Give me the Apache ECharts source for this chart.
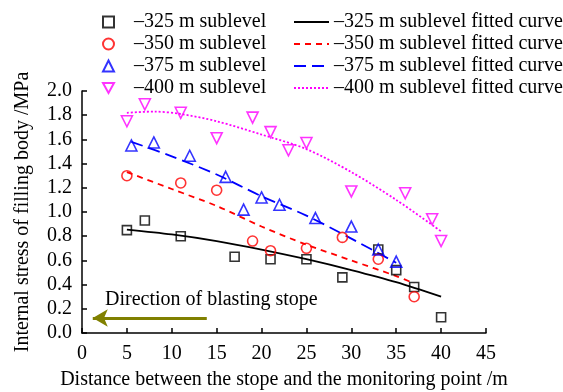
<!DOCTYPE html>
<html>
<head>
<meta charset="utf-8">
<script src="https://cdn.jsdelivr.net/npm/echarts@6/dist/echarts.min.js"></script>
<style>
  html, body { margin: 0; padding: 0; background: #fff; }
  #chart { width: 563px; height: 392px; }
</style>
</head>
<body>
<div id="chart"></div>
<script>
// measured points
const x325 = [5, 7, 11, 17, 21, 25, 29, 33, 35, 37, 40];
const y325 = [0.85, 0.93, 0.80, 0.63, 0.61, 0.61, 0.46, 0.69, 0.52, 0.38, 0.13];
const x350 = [5, 11, 15, 19, 21, 25, 29, 33, 37];
const y350 = [1.30, 1.24, 1.18, 0.76, 0.68, 0.70, 0.79, 0.61, 0.30];
const x375 = [5.5, 8, 12, 16, 18, 20, 22, 26, 30, 33, 35];
const y375 = [1.55, 1.575, 1.465, 1.29, 1.02, 1.12, 1.06, 0.95, 0.88, 0.69, 0.59];
const x400 = [5, 7, 11, 15, 19, 21, 23, 25, 30, 36, 39, 40];
const y400 = [1.75, 1.89, 1.82, 1.61, 1.78, 1.66, 1.51, 1.57, 1.17, 1.155, 0.94, 0.76];

// fitted curves
const fx325 = [5, 10, 15, 20, 25, 30, 35, 40];
const fy325 = [0.855, 0.815, 0.76, 0.69, 0.61, 0.52, 0.42, 0.30];
const fx350 = [5, 10, 15, 20, 25, 30, 35, 37];
const fy350 = [1.33, 1.19, 1.05, 0.88, 0.73, 0.60, 0.47, 0.41];
const fx375 = [5.5, 10, 15, 20, 25, 30, 35];
const fy375 = [1.58, 1.46, 1.31, 1.13, 0.97, 0.78, 0.58];
const fx400 = [5, 8, 11, 15, 20, 25, 30, 35, 40];
const fy400 = [1.82, 1.83, 1.81, 1.75, 1.64, 1.52, 1.33, 1.10, 0.84];

// arrow for the blasting direction
const arrowFrom = [13.9, 0.124];
const arrowTo = [1.2, 0.124];

const FONT = '"Liberation Serif", "Times New Roman", serif';
const zip = (xs, ys) => xs.map((x, i) => [x, ys[i]]);

const scatter = (name, xs, ys, color, symbol, size, rotate) => ({
  name,
  type: 'scatter',
  data: zip(xs, ys),
  symbol,
  symbolSize: size,
  symbolRotate: rotate || 0,
  itemStyle: { color: 'rgba(255,255,255,0)', borderColor: color, borderWidth: 1.6 },
  z: 3
});

const fitted = (name, xs, ys, color, type) => ({
  name,
  type: 'line',
  data: zip(xs, ys),
  showSymbol: false,
  symbol: 'none',
  smooth: 0.3,
  itemStyle: { color },
  lineStyle: { color, width: 1.8, type },
  z: 2
});

const chart = echarts.init(document.getElementById('chart'));

chart.setOption({
  animation: false,
  textStyle: { fontFamily: FONT },
  grid: { left: 82, right: 77, top: 91, bottom: 59, outerBoundsMode: 'none' },
  legend: [
    {
      orient: 'vertical',
      left: 97,
      top: 6,
      itemWidth: 11,
      itemHeight: 11,
      itemGap: 0,
      textStyle: { fontFamily: FONT, fontSize: 20, color: '#000', lineHeight: 22, padding: [0, 0, 0, 15] },
      data: ['–325 m sublevel', '–350 m sublevel', '–375 m sublevel',
             { name: '–400 m sublevel', icon: 'path://M0,0 L10,0 L5,9 Z' }]
    },
    {
      orient: 'vertical',
      left: 288,
      top: 6,
      itemWidth: 35,
      itemHeight: 12,
      itemGap: 0,
      itemStyle: { opacity: 0 },
      textStyle: { fontFamily: FONT, fontSize: 20, color: '#000', lineHeight: 22 },
      data: ['–325 m sublevel fitted curve', '–350 m sublevel fitted curve',
             '–375 m sublevel fitted curve', '–400 m sublevel fitted curve']
    }
  ],
  xAxis: {
    type: 'value',
    min: 0,
    max: 45,
    interval: 5,
    name: 'Distance between the stope and the monitoring point /m',
    nameLocation: 'middle',
    nameGap: 37,
    nameTextStyle: { fontFamily: FONT, fontSize: 20, color: '#000' },
    axisLine: { lineStyle: { color: '#000', width: 1.5 } },
    axisTick: { inside: true, length: 5, lineStyle: { color: '#000', width: 1.5 } },
    axisLabel: { fontFamily: FONT, fontSize: 20, color: '#000', margin: 11 },
    splitLine: { show: false }
  },
  yAxis: {
    type: 'value',
    min: 0,
    max: 2,
    interval: 0.2,
    name: 'Internal stress of filling body /MPa',
    nameLocation: 'middle',
    nameGap: 49,
    nameTextStyle: { fontFamily: FONT, fontSize: 20, color: '#000' },
    axisLine: { show: true, lineStyle: { color: '#000', width: 1.5 } },
    axisTick: { show: true, inside: true, length: 5, lineStyle: { color: '#000', width: 1.5 } },
    axisLabel: { fontFamily: FONT, fontSize: 20, color: '#000', margin: 10, formatter: v => v.toFixed(1) },
    splitLine: { show: false }
  },
  graphic: [
    {
      type: 'text',
      left: 105,
      top: 290,
      style: { text: 'Direction of blasting stope', font: '20px ' + FONT, fill: '#000' }
    }
  ],
  series: [
    fitted('–325 m sublevel fitted curve', fx325, fy325, '#000000', 'solid'),
    fitted('–350 m sublevel fitted curve', fx350, fy350, '#ff0000', [6, 5]),
    fitted('–375 m sublevel fitted curve', fx375, fy375, '#0000ff', [12, 6]),
    fitted('–400 m sublevel fitted curve', fx400, fy400, '#ff00ff', [2, 2]),
    scatter('–325 m sublevel', x325, y325, '#000000', 'rect', 9),
    scatter('–350 m sublevel', x350, y350, '#ff0000', 'circle', 10),
    scatter('–375 m sublevel', x375, y375, '#0000ff', 'triangle', 11),
    scatter('–400 m sublevel', x400, y400, '#ff00ff', 'triangle', 11, 180),
    {
      name: 'arrow',
      type: 'line',
      data: [],
      silent: true,
      markLine: {
        silent: true,
        symbol: ['none', 'arrow'],
        symbolSize: [13, 15],
        label: { show: false },
        lineStyle: { color: '#808000', width: 3, type: 'solid' },
        data: [[{ coord: arrowFrom }, { coord: arrowTo }]]
      }
    }
  ]
});
</script>
</body>
</html>
